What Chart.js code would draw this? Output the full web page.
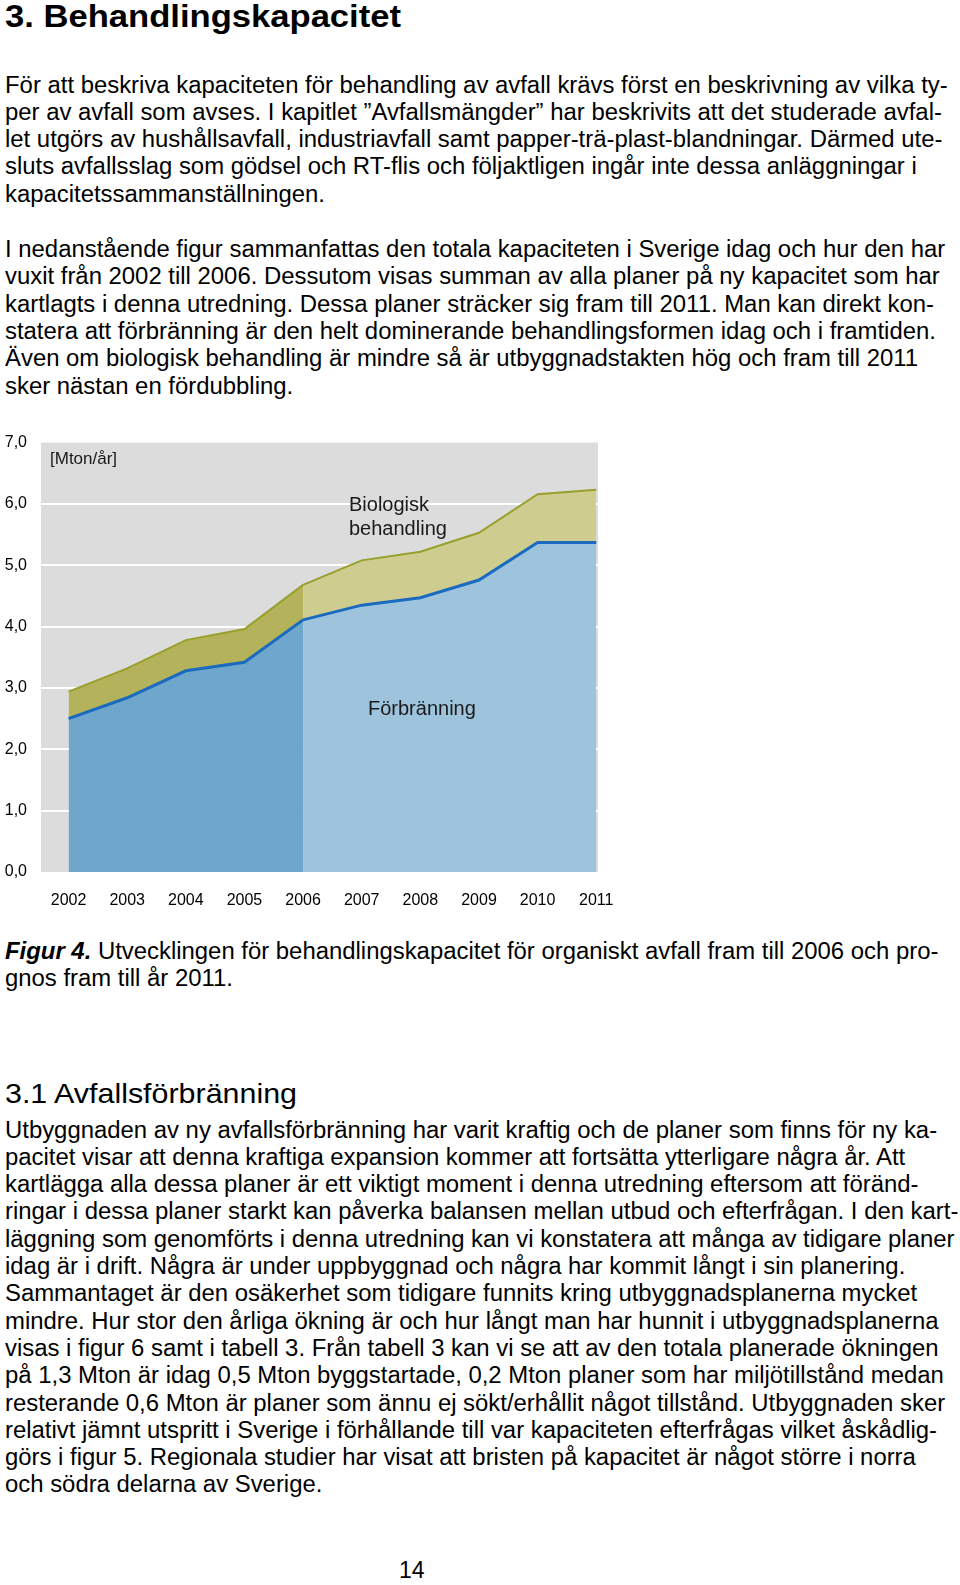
<!DOCTYPE html>
<html lang="sv">
<head>
<meta charset="utf-8">
<title>Behandlingskapacitet</title>
<script src="https://cdn.jsdelivr.net/npm/chart.js@4.4.1/dist/chart.umd.min.js"></script>
<style>
  body { margin: 0; width: 960px; height: 1585px; position: relative; overflow: hidden;
         background: #fff; color: #000; font-family: "Liberation Sans", Arial, sans-serif; }
  .ln { position: absolute; left: 5px; white-space: nowrap; font-size: 23px; line-height: 27px;
        transform-origin: 0 50%; }
  .h1 { position: absolute; left: 5px; top: 0; white-space: nowrap; font-size: 31px; font-weight: bold;
        line-height: 34px; transform-origin: 0 50%; }
  .h2 { position: absolute; left: 5px; white-space: nowrap; font-size: 28px; line-height: 32px;
        transform-origin: 0 50%; }
  #chartBox { position: absolute; left: 0; top: 419px; width: 640px; height: 496px; }
  .note { position: absolute; white-space: nowrap; color: #1a1a1a; }
</style>
</head>
<body>

<div class="h1" id="h1">3. Behandlingskapacitet</div>
<div id="text"></div>

<div id="chartBox"><canvas id="kapacitetChart"></canvas></div>
<div class="note" style="left:50px; top:449px; font-size:17px; line-height:20px;">[Mton/år]</div>
<div class="note" style="left:349px; top:492px; font-size:20px; line-height:24px;">Biologisk<br>behandling</div>
<div class="note" style="left:368px; top:696px; font-size:20px; line-height:24px;">Förbränning</div>

<div class="h2" id="h2" style="top:1078px;">3.1 Avfallsförbränning</div>
<div class="ln" style="left:399px; top:1557px;">14</div>

<script>
// Data
const years = [2002, 2003, 2004, 2005, 2006, 2007, 2008, 2009, 2010, 2011];
const forbranning = [2.50, 2.84, 3.28, 3.42, 4.11, 4.35, 4.47, 4.76, 5.37, 5.37];
const biologisk = [0.44, 0.48, 0.50, 0.54, 0.57, 0.73, 0.75, 0.77, 0.79, 0.86];
const yTicks = [0, 1, 2, 3, 4, 5, 6, 7];
const lastHistoricYear = 2006;

// Brödtext, rad för rad som i originalet
const stycke1 = [
  "För att beskriva kapaciteten för behandling av avfall krävs först en beskrivning av vilka ty-",
  "per av avfall som avses. I kapitlet ”Avfallsmängder” har beskrivits att det studerade avfal-",
  "let utgörs av hushållsavfall, industriavfall samt papper-trä-plast-blandningar. Därmed ute-",
  "sluts avfallsslag som gödsel och RT-flis och följaktligen ingår inte dessa anläggningar i",
  "kapacitetssammanställningen."
];
const stycke2 = [
  "I nedanstående figur sammanfattas den totala kapaciteten i Sverige idag och hur den har",
  "vuxit från 2002 till 2006. Dessutom visas summan av alla planer på ny kapacitet som har",
  "kartlagts i denna utredning. Dessa planer sträcker sig fram till 2011. Man kan direkt kon-",
  "statera att förbränning är den helt dominerande behandlingsformen idag och i framtiden.",
  "Även om biologisk behandling är mindre så är utbyggnadstakten hög och fram till 2011",
  "sker nästan en fördubbling."
];
const figurtext = [
  "<b><i>Figur 4.</i></b> Utvecklingen för behandlingskapacitet för organiskt avfall fram till 2006 och pro-",
  "gnos fram till år 2011."
];
const stycke3 = [
  "Utbyggnaden av ny avfallsförbränning har varit kraftig och de planer som finns för ny ka-",
  "pacitet visar att denna kraftiga expansion kommer att fortsätta ytterligare några år. Att",
  "kartlägga alla dessa planer är ett viktigt moment i denna utredning eftersom att föränd-",
  "ringar i dessa planer starkt kan påverka balansen mellan utbud och efterfrågan. I den kart-",
  "läggning som genomförts i denna utredning kan vi konstatera att många av tidigare planer",
  "idag är i drift. Några är under uppbyggnad och några har kommit långt i sin planering.",
  "Sammantaget är den osäkerhet som tidigare funnits kring utbyggnadsplanerna mycket",
  "mindre. Hur stor den årliga ökning är och hur långt man har hunnit i utbyggnadsplanerna",
  "visas i figur 6 samt i tabell 3. Från tabell 3 kan vi se att av den totala planerade ökningen",
  "på 1,3 Mton är idag 0,5 Mton byggstartade, 0,2 Mton planer som har miljötillstånd medan",
  "resterande 0,6 Mton är planer som ännu ej sökt/erhållit något tillstånd. Utbyggnaden sker",
  "relativt jämnt utspritt i Sverige i förhållande till var kapaciteten efterfrågas vilket åskådlig-",
  "görs i figur 5. Regionala studier har visat att bristen på kapacitet är något större i norra",
  "och södra delarna av Sverige."
];

const textBox = document.getElementById("text");
const allLines = [];
function addLines(lines, firstCenter) {
  lines.forEach((t, i) => {
    const d = document.createElement("div");
    d.className = "ln";
    d.innerHTML = t;
    d.style.top = (firstCenter + i * 27.3 - 13.5) + "px";
    textBox.appendChild(d);
    allLines.push(d);
  });
}
addLines(stycke1, 85);
addLines(stycke2, 249.6);
addLines(figurtext, 951);
addLines(stycke3, 1130);

// Originalet är lite bredare än Liberation Sans, skala horisontellt
const refLine = allLines[4];
const S = 320 / refLine.getBoundingClientRect().width;
allLines.forEach(d => d.style.transform = `scaleX(${S})`);
const h1 = document.getElementById("h1");
h1.style.transform = `scaleX(${396 / h1.getBoundingClientRect().width})`;
const h2 = document.getElementById("h2");
h2.style.transform = `scaleX(${292 / h2.getBoundingClientRect().width})`;

// Diagrammet
const total = forbranning.map((v, i) => v + biologisk[i]);
const points = (vals, keep) => years.map((y, i) => ({ x: y, y: vals[i] })).filter(p => keep(p.x));
const historic = y => y <= lastHistoricYear;
const forecast = y => y >= lastHistoricYear;

const plotBg = {
  id: "plotBg",
  beforeDraw(chart) {
    const { ctx, chartArea: a } = chart;
    ctx.save();
    ctx.fillStyle = "#dcdcdc";
    ctx.fillRect(a.left, a.top, a.right - a.left, a.bottom - a.top);
    ctx.restore();
  }
};

const ctx = document.getElementById("kapacitetChart").getContext("2d");
new Chart(ctx, {
  type: "line",
  data: {
    datasets: [
      { label: "Förbränning", data: points(forbranning, historic), fill: "origin",
        backgroundColor: "#6fa6cc", borderColor: "#1a6bc0", borderWidth: 3 },
      { label: "Förbränning (prognos)", data: points(forbranning, forecast), fill: "origin",
        backgroundColor: "#9dc3dd", borderColor: "#1a6bc0", borderWidth: 3 },
      { label: "Biologisk behandling", data: points(total, historic), fill: 0,
        backgroundColor: "#b4b35b", borderColor: "#98a02c", borderWidth: 2 },
      { label: "Biologisk behandling (prognos)", data: points(total, forecast), fill: 1,
        backgroundColor: "#cfcc8f", borderColor: "#98a02c", borderWidth: 2 }
    ]
  },
  options: {
    responsive: true,
    maintainAspectRatio: false,
    animation: false,
    layout: { padding: { top: 11, right: 42, bottom: 0, left: 0 } },
    elements: { point: { radius: 0 }, line: { tension: 0 } },
    plugins: { legend: { display: false }, tooltip: { enabled: false } },
    scales: {
      x: {
        type: "linear",
        min: 2001.53,
        max: 2011.03,
        afterBuildTicks: s => { s.ticks = years.map(v => ({ value: v })); },
        afterFit: s => { s.height = 43; },
        grid: { display: false },
        border: { display: false },
        ticks: { color: "#000", font: { family: "Liberation Sans", size: 16 }, padding: 11,
                 maxRotation: 0, autoSkip: false, callback: v => String(v) }
      },
      y: {
        min: 0,
        max: 7,
        afterBuildTicks: s => { s.ticks = yTicks.map(v => ({ value: v })); },
        afterFit: s => { s.width = 41; },
        grid: {
          color: c => (c.tick && (c.tick.value === 0 || c.tick.value === 7)) ? "rgba(0,0,0,0)" : "#ffffff",
          lineWidth: 2,
          drawTicks: false
        },
        border: { display: false },
        ticks: { color: "#000", font: { family: "Liberation Sans", size: 16 }, padding: 14,
                 callback: v => v.toFixed(1).replace(".", ",") }
      }
    }
  },
  plugins: [plotBg]
});
</script>
</body>
</html>
